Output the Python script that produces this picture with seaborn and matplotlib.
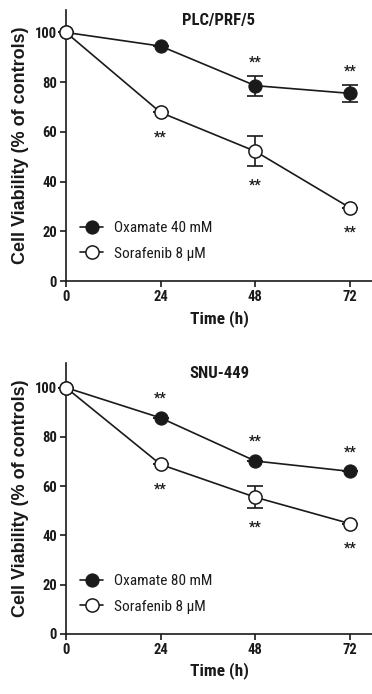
import numpy as np
import pandas as pd
import matplotlib
matplotlib.use("Agg")
import matplotlib.pyplot as plt
from matplotlib import font_manager
import seaborn as sns

sns.set_theme(style="ticks")

# prefer a narrow sans for the labels when one is available
_names = {f.name for f in font_manager.fontManager.ttflist}
_narrow = [n for n in ("Liberation Sans Narrow", "Roboto Condensed", "Open Sans Condensed")
           if n in _names]
plt.rcParams['font.family'] = _narrow + ['Liberation Sans', 'DejaVu Sans']
WIDE = ['Liberation Sans', 'DejaVu Sans']

# Time points (hours)
time_h = [0, 24, 48, 72]

# PLC/PRF/5 panel
plc_oxamate = [100, 94.5, 78.6, 75.5]
plc_oxamate_err = [0, 0, 4.0, 3.5]
plc_sorafenib = [100, 67.8, 52.2, 29.5]
plc_sorafenib_err = [0, 0, 6.0, 0]
plc_oxamate_sig = [False, False, True, True]
plc_sorafenib_sig = [False, True, True, True]

# SNU-449 panel
snu_oxamate = [100, 87.7, 70.2, 66.0]
snu_oxamate_err = [0, 0, 0, 0]
snu_sorafenib = [100, 68.8, 55.5, 44.8]
snu_sorafenib_err = [0, 0, 4.5, 0]
snu_oxamate_sig = [False, True, True, True]
snu_sorafenib_sig = [False, True, True, True]

panels = [
    dict(title="PLC/PRF/5", ox=plc_oxamate, ox_err=plc_oxamate_err, ox_sig=plc_oxamate_sig,
         so=plc_sorafenib, so_err=plc_sorafenib_err, so_sig=plc_sorafenib_sig,
         ox_label="Oxamate 40 mM", so_label="Sorafenib 8 \u00b5M",
         rect=[0.1774, 0.595, 0.8226, 0.3905], ylim=(0, 109)),
    dict(title="SNU-449", ox=snu_oxamate, ox_err=snu_oxamate_err, ox_sig=snu_oxamate_sig,
         so=snu_sorafenib, so_err=snu_sorafenib_err, so_sig=snu_sorafenib_sig,
         ox_label="Oxamate 80 mM", so_label="Sorafenib 8 \u00b5M",
         rect=[0.1774, 0.0865, 0.8226, 0.3905], ylim=(0, 110)),
]

INK = "#1a1a1a"
MS = 9.5
fig = plt.figure(figsize=(3.72, 6.94), dpi=100)


def stars(ax, xs, ys, errs, sig, direction):
    # place "**" beyond the error bar or marker edge
    for x, y, e, s in zip(xs, ys, errs, sig):
        if not s:
            continue
        p0 = ax.transData.transform((x, y))
        p1 = ax.transData.transform((x, y + e))
        err_px = abs(p1[1] - p0[1])
        off_px = direction * max(err_px + 16, 22) - 3
        off_pt = off_px * 72 / fig.dpi
        ax.annotate("**", xy=(x, y), xytext=(0, off_pt),
                    textcoords="offset points", ha="center", va="center",
                    fontsize=10, fontweight="bold", color=INK)


for p in panels:
    ax = fig.add_axes(p["rect"])
    ax.set_xlim(0, 77.6)
    ax.set_ylim(*p["ylim"])

    df_ox = pd.DataFrame({"t": time_h, "v": p["ox"]})
    df_so = pd.DataFrame({"t": time_h, "v": p["so"]})

    ax.errorbar(time_h, p["ox"], yerr=p["ox_err"], fmt="none", ecolor=INK,
                elinewidth=1.2, capsize=5.5, capthick=1.2, zorder=2, clip_on=False)
    ax.errorbar(time_h, p["so"], yerr=p["so_err"], fmt="none", ecolor=INK,
                elinewidth=1.2, capsize=5.5, capthick=1.2, zorder=2, clip_on=False)
    sns.lineplot(data=df_ox, x="t", y="v", ax=ax, color=INK, linewidth=1.2,
                 marker="o", markersize=MS, markerfacecolor=INK, markeredgecolor=INK,
                 label=p["ox_label"], zorder=3, clip_on=False)
    sns.lineplot(data=df_so, x="t", y="v", ax=ax, color=INK, linewidth=1.2,
                 marker="o", markersize=MS, markerfacecolor="white", markeredgecolor=INK,
                 markeredgewidth=1.1, label=p["so_label"], zorder=4, clip_on=False)

    stars(ax, time_h, p["ox"], p["ox_err"], p["ox_sig"], +1)
    stars(ax, time_h, p["so"], p["so_err"], p["so_sig"], -1)

    sns.despine(ax=ax)
    for side in ("left", "bottom"):
        ax.spines[side].set_linewidth(1.2)
        ax.spines[side].set_color(INK)
    ax.set_xticks(time_h)
    ax.set_yticks([0, 20, 40, 60, 80, 100])
    ax.tick_params(axis="both", direction="out", length=4.5, width=1.2, color=INK,
                   labelsize=10.5, labelcolor=INK, pad=2)
    for lab in ax.get_xticklabels() + ax.get_yticklabels():
        lab.set_fontweight("bold")
    ax.set_xlabel("Time (h)", fontsize=12.5, fontweight="bold", color=INK, labelpad=4)
    ax.set_ylabel("Cell Viability (% of controls)", fontsize=13, fontweight="bold",
                  color=INK, labelpad=4, family=WIDE)
    ax.text(0.5, 0.96, p["title"], transform=ax.transAxes, ha="center", va="center",
            fontsize=12, fontweight="bold", color=INK)

    leg = ax.legend(loc="center left", bbox_to_anchor=(0.046, 0.148), frameon=False,
                    fontsize=11, handlelength=1.5, handletextpad=0.7, labelspacing=0.75,
                    borderaxespad=0, borderpad=0)
    for t in leg.get_texts():
        t.set_color(INK)

fig.savefig("out.png", dpi=100)
